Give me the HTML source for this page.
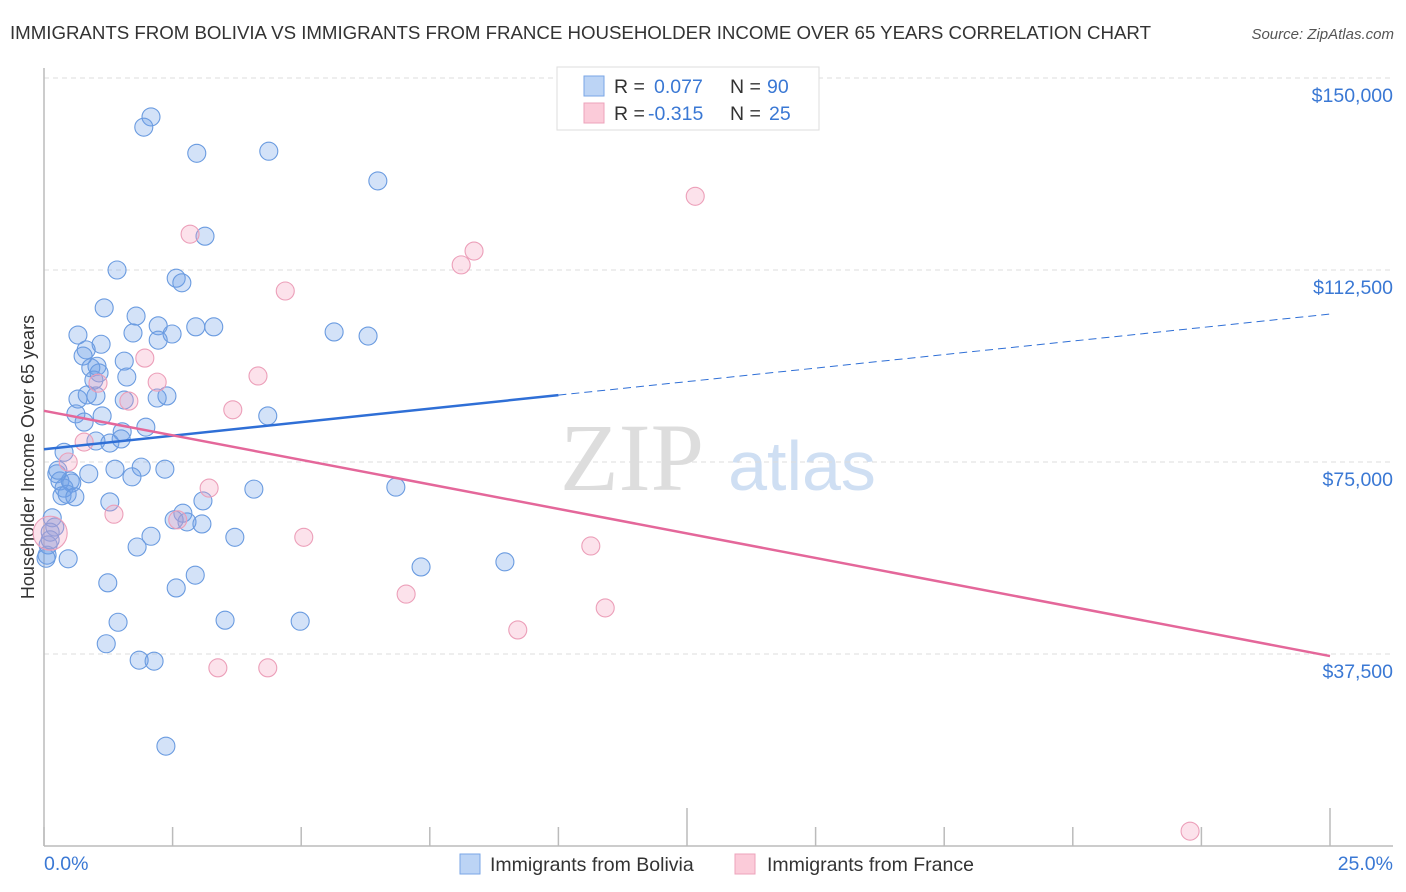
<!DOCTYPE html>
<html><head><meta charset="utf-8"><style>
body{margin:0;background:#fff;font-family:"Liberation Sans",sans-serif;}
svg{display:block}
</style></head><body>
<svg id="chart" width="1406" height="892">
<text x="10" y="39" font-size="18.7" fill="#333" textLength="1141">IMMIGRANTS FROM BOLIVIA VS IMMIGRANTS FROM FRANCE HOUSEHOLDER INCOME OVER 65 YEARS CORRELATION CHART</text>
<text x="1394" y="39" font-size="15" font-style="italic" fill="#555" text-anchor="end">Source: ZipAtlas.com</text>
<text transform="translate(34,457) rotate(-90)" font-size="18" fill="#333" text-anchor="middle">Householder Income Over 65 years</text>
<g>
<text x="632" y="490" font-size="96" font-family="Liberation Serif,serif" fill="#ddd" text-anchor="middle">ZIP</text>
<text x="802" y="490" font-size="70" fill="#cfdff3" text-anchor="middle">atlas</text>
</g>
<g id="grid"></g><g id="axes"></g><g id="marks"></g><g id="trends"></g>
<g>
<rect x="557" y="67" width="262" height="63" fill="#fff" stroke="#ddd"/>
<rect x="584" y="76" width="20" height="20" fill="#bcd4f5" stroke="#7aa6e6"/>
<rect x="584" y="103" width="20" height="20" fill="#fbcbd9" stroke="#eda3bb"/>
<text x="614" y="93" font-size="19.5" fill="#333">R = </text><text x="654" y="93" font-size="19.5" fill="#3a78d4">0.077</text>
<text x="730" y="93" font-size="19.5" fill="#333">N = </text><text x="767" y="93" font-size="19.5" fill="#3a78d4">90</text>
<text x="614" y="120" font-size="19.5" fill="#333">R = </text><text x="648" y="120" font-size="19.5" fill="#3a78d4">-0.315</text>
<text x="730" y="120" font-size="19.5" fill="#333">N = </text><text x="769" y="120" font-size="19.5" fill="#3a78d4">25</text>
</g>
<g>
<rect x="460" y="854" width="20" height="20" fill="#bcd4f5" stroke="#7aa6e6"/>
<text x="490" y="871" font-size="19.5" fill="#333">Immigrants from Bolivia</text>
<rect x="735" y="854" width="20" height="20" fill="#fbcbd9" stroke="#eda3bb"/>
<text x="767" y="871" font-size="19.5" fill="#333">Immigrants from France</text>
</g>
</svg>
<script>
const yTicks=[37500,75000,112500,150000];
const yTickLabels=["$37,500","$75,000","$112,500","$150,000"];
const xTickLabels=["0.0%","25.0%"];
const boliviaX=[2.08,1.94,2.97,4.37,6.49,1.42,3.13,2.57,2.68,1.17,1.79,0.66,2.22,1.73,2.49,2.95,3.30,5.64,6.30,2.22,1.11,0.82,0.76,1.56,0.91,1.03,0.97,1.61,1.07,0.66,1.01,0.84,1.56,2.20,2.39,0.62,1.13,4.35,0.78,1.98,1.52,1.01,1.28,1.50,0.39,1.38,1.89,2.35,0.87,1.71,0.25,0.31,0.51,0.39,0.54,0.35,0.45,0.60,1.28,3.09,4.08,6.84,2.70,2.78,3.07,2.53,0.16,0.21,0.12,0.08,0.06,3.71,2.08,1.81,0.47,0.04,7.33,8.96,2.94,1.24,2.57,3.52,4.98,1.44,1.21,1.85,2.14,2.37,0.12,0.27];
const boliviaY=[142400,140400,135300,135700,129900,112500,119100,110900,110000,105100,103500,99800,101600,100200,100000,101400,101400,100400,99600,98800,98000,96900,95700,94700,93400,93700,91000,91600,92400,87300,87900,88100,87100,87500,87900,84400,84000,84000,82800,81800,80900,79100,78700,79500,76900,73600,74000,73600,72700,72100,72700,71300,71300,69900,70900,68400,68700,68200,67200,67400,69700,70100,65000,63300,62900,63700,64100,62300,61300,58800,56800,60300,60500,58400,56100,56200,54500,55500,52900,51400,50400,44100,43900,43700,39500,36300,36100,19500,59800,73400];
const franceX=[2.84,8.36,8.11,4.69,12.66,1.96,4.16,2.20,1.05,1.65,3.67,0.78,0.47,3.21,1.36,2.60,5.05,10.63,7.04,10.91,9.21,3.38,4.35,22.28,0.12];
const franceY=[119500,116200,113500,108400,126900,95300,91800,90600,90400,86900,85200,78900,75000,69900,64800,63700,60300,58600,49200,46500,42200,34800,34800,2900,61100];
const boliviaTrend=[77500,103900];
const franceTrend=[85000,37100];
const NS="http://www.w3.org/2000/svg";
const X0=44,X1=1330,Y0=846,YPX=192/37500;
function sx(v){return X0+(v/25)*(X1-X0);}
function sy(v){return Y0-v*YPX;}
function mk(tag,attrs,parent){const e=document.createElementNS(NS,tag);for(const k in attrs)e.setAttribute(k,attrs[k]);parent.appendChild(e);return e;}
const grid=document.getElementById('grid'),axes=document.getElementById('axes'),marks=document.getElementById('marks'),trends=document.getElementById('trends');
yTicks.forEach((t,i)=>{
 const l=mk('line',{x1:X0,x2:1393,y1:sy(t),y2:sy(t),stroke:'#ddd','stroke-dasharray':'5,4'},grid);
 
 
 const tx=mk('text',{x:1393,y:sy(t)+24,'font-size':19.5,fill:'#3a78d4','text-anchor':'end'},axes);
 tx.textContent=yTickLabels[i];
 
 
});
const ax=mk('line',{x1:X0,x2:1393,y1:Y0,y2:Y0,stroke:'#bbb','stroke-width':1.5},axes);


const ay=mk('line',{x1:X0,x2:X0,y1:68,y2:Y0,stroke:'#bbb','stroke-width':1.5},axes);


for(let i=0;i<=10;i++){
 const v=i*2.5;const tall=(i===5||i===10);
 const t=mk('line',{x1:sx(v),x2:sx(v),y1:tall?808:827,y2:Y0,stroke:'#bbb','stroke-width':1.5},axes);
 
 
}
[[0,'start',44],[25,'end',1393]].forEach((p,i)=>{
 const tx=mk('text',{x:p[2],y:870,'font-size':19.5,fill:'#3a78d4','text-anchor':p[1]},axes);
 tx.textContent=xTickLabels[i];
 
 
});
boliviaX.forEach((x,i)=>{
 const c=mk('circle',{cx:sx(x),cy:sy(boliviaY[i]),r:9,fill:'rgba(110,160,232,0.3)',stroke:'#6a9be0','stroke-width':1.1},marks);
 
 
});
franceX.forEach((x,i)=>{
 const big=i===franceX.length-1;
 const c=mk('circle',{cx:sx(x),cy:sy(franceY[i]),r:big?17:9,fill:'rgba(244,160,188,0.3)',stroke:'#ec9fb9','stroke-width':1.1},marks);
 
 
});
const bm=boliviaTrend[0]+(boliviaTrend[1]-boliviaTrend[0])*(10/25);
const b1=mk('line',{x1:sx(0),y1:sy(boliviaTrend[0]),x2:sx(10),y2:sy(bm),stroke:'#2f6fd6','stroke-width':2.5},trends);


const b2=mk('line',{x1:sx(10),y1:sy(bm),x2:sx(25),y2:sy(boliviaTrend[1]),stroke:'#2f6fd6','stroke-width':1,'stroke-dasharray':'8,5'},trends);


const f1=mk('line',{x1:sx(0),y1:sy(franceTrend[0]),x2:sx(25),y2:sy(franceTrend[1]),stroke:'#e4679a','stroke-width':2.5},trends);


</script>
</body></html>
